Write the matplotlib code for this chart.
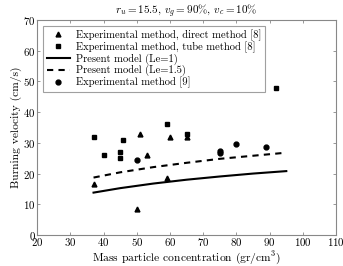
import matplotlib
matplotlib.use('Agg')
import matplotlib.pyplot as plt

plt.rcParams['font.family'] = ['cmr10', 'DejaVu Serif']
plt.rcParams['mathtext.fontset'] = 'cm'
plt.rcParams['axes.formatter.use_mathtext'] = True
plt.rcParams['axes.unicode_minus'] = False

# experimental data, direct method [8]
direct_x = [37, 50, 51, 53, 59, 60, 65]
direct_y = [16.5, 8.5, 33, 26, 18.5, 32, 32]

# experimental data, tube method [8]
tube_x = [37, 40, 45, 45, 46, 59, 65, 92]
tube_y = [32, 26, 27, 25, 31, 36, 33, 48]

# experimental data [9]
ref9_x = [50, 75, 75, 80, 89]
ref9_y = [24.5, 27.5, 26.6, 29.5, 28.5]

# present model curves
model_x = [37, 45, 55, 65, 75, 85, 95]
le1_y = [13.8, 15.25, 16.75, 18.0, 19.05, 20.0, 20.8]
le15_y = [18.7, 20.4, 22.1, 23.5, 24.8, 25.8, 26.8]

fig = plt.figure(figsize=(3.43, 2.66), dpi=100)
ax = fig.add_axes([0.108, 0.1165, 0.872, 0.8085])

ax.plot(direct_x, direct_y, '^', color='black', ms=3.5, label='Experimental method, direct method [8]')
ax.plot(tube_x, tube_y, 's', color='black', ms=3, label='Experimental method, tube method [8]')
ax.plot(model_x, le1_y, '-', color='black', lw=1.5, label='Present model (Le=1)')
ax.plot(model_x, le15_y, '--', color='black', lw=1.5, dashes=(3, 2.5), label='Present model (Le=1.5)')
ax.plot(ref9_x, ref9_y, 'o', color='black', ms=3.5, label='Experimental method [9]')

ax.set_xlim(20, 110)
ax.set_ylim(0, 70)
ax.set_xticks(range(20, 111, 10))
ax.set_yticks(range(0, 71, 10))
ax.tick_params(direction='in', length=2.5, width=0.6, color='#888888', labelsize=7.8, pad=1,
               top=True, right=True)
for s in ax.spines.values():
    s.set_color('#888888')
    s.set_linewidth(0.8)

ax.set_xlabel('Mass particle concentration (gr/cm$^3$)', fontsize=8.3, labelpad=1)
ax.set_ylabel('Burning velocity (cm/s)', fontsize=8.3, labelpad=1)
ax.set_title(r'$r_u = 15.5$, $v_g = 90\%$, $v_c = 10\%$', fontsize=8, pad=4)

leg = ax.legend(loc='upper left', fontsize=7.6, frameon=True, fancybox=False,
                edgecolor='#888888', handlelength=2.2, handletextpad=0.6,
                labelspacing=0.05, borderpad=0.3, borderaxespad=0.6)
leg.get_frame().set_linewidth(0.8)

fig.savefig('out.png', dpi=100)
